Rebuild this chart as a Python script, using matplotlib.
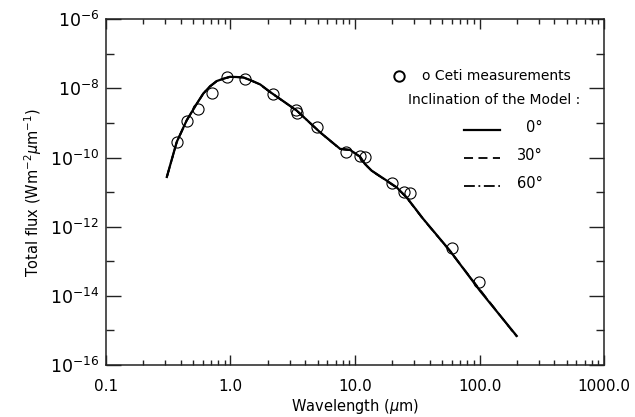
import matplotlib
matplotlib.use("Agg")
import matplotlib.pyplot as plt
from matplotlib.ticker import FixedLocator, NullFormatter, FixedFormatter

# Model SED (wavelength in micron, flux in W m^-2 um^-1)
wave_model = [0.308, 0.370, 0.445, 0.536, 0.605, 0.684, 0.774, 0.875, 0.99, 1.12,
              1.27, 1.44, 1.73, 2.07, 3.40, 5.24, 7.59, 9.12, 10.96, 12.0, 13.6,
              18.0, 21.6, 26.0, 35.2, 57.9, 100.9, 199.0]
flux_0deg = [2.75e-11, 2.83e-10, 1.20e-9, 3.63e-9, 7.16e-9, 1.15e-8, 1.63e-8, 1.91e-8,
             2.17e-8, 2.14e-8, 2.08e-8, 1.75e-8, 1.31e-8, 8.00e-9, 2.30e-9, 5.41e-10,
             1.79e-10, 1.67e-10, 1.07e-10, 6.61e-11, 4.20e-11, 2.15e-11, 1.38e-11,
             7.08e-12, 1.71e-12, 2.02e-13, 1.40e-14, 6.92e-16]
flux_30deg = [2.70e-11, 2.80e-10, 1.19e-9, 3.60e-9, 7.10e-9, 1.14e-8, 1.62e-8, 1.90e-8,
              2.16e-8, 2.13e-8, 2.07e-8, 1.74e-8, 1.30e-8, 7.96e-9, 2.28e-9, 5.36e-10,
              1.77e-10, 1.65e-10, 1.05e-10, 6.50e-11, 4.12e-11, 2.10e-11, 1.34e-11,
              6.90e-12, 1.68e-12, 1.98e-13, 1.50e-14, 6.60e-16]
flux_60deg = [2.72e-11, 2.81e-10, 1.19e-9, 3.61e-9, 7.12e-9, 1.14e-8, 1.62e-8, 1.90e-8,
              2.16e-8, 2.13e-8, 2.07e-8, 1.74e-8, 1.30e-8, 7.98e-9, 2.29e-9, 5.38e-10,
              1.78e-10, 1.66e-10, 1.06e-10, 6.55e-11, 4.15e-11, 2.12e-11, 1.36e-11,
              6.95e-12, 1.69e-12, 2.00e-13, 1.45e-14, 6.75e-16]

# o Ceti measurements
wave_obs = [0.370, 0.450, 0.546, 0.706, 0.94, 1.31, 2.18, 3.35, 3.40, 4.98,
            8.4, 10.96, 12.1, 19.7, 24.9, 27.7, 59.8, 99.0]
flux_obs = [2.77e-10, 1.13e-9, 2.51e-9, 7.50e-9, 2.13e-8, 1.91e-8, 6.84e-9, 2.40e-9,
            2.00e-9, 7.92e-10, 1.46e-10, 1.12e-10, 1.02e-10, 1.85e-11, 1.03e-11,
            9.48e-12, 2.42e-13, 2.55e-14]

xtick_vals = [0.1, 1.0, 10.0, 100.0, 1000.0]
xtick_labels = ["0.1", "1.0", "10.0", "100.0", "1000.0"]
ytick_vals = [1e-16, 1e-14, 1e-12, 1e-10, 1e-8, 1e-6]
ytick_labels = [r"$10^{-16}$", r"$10^{-14}$", r"$10^{-12}$", r"$10^{-10}$", r"$10^{-8}$", r"$10^{-6}$"]

plt.rcParams['font.family'] = ['DejaVu Sans']
plt.rcParams['mathtext.fontset'] = 'dejavusans'

fig = plt.figure(figsize=(6.35, 4.17), dpi=100)
ax = fig.add_axes([0.1669, 0.1247, 0.7843, 0.829])

ax.plot(wave_model, flux_0deg, color='black', lw=1.6, ls='-')
ax.plot(wave_model, flux_30deg, color='black', lw=1.3, ls=(0, (5, 3)))
ax.plot(wave_model, flux_60deg, color='black', lw=1.3, ls=(0, (6, 2, 1, 2)))
ax.plot(wave_obs, flux_obs, ls='none', marker='o', ms=8, mfc='none', mec='black', mew=0.8)

ax.set_xscale('log')
ax.set_yscale('log')
ax.set_xlim(0.1, 1000)
ax.set_ylim(1e-16, 1e-6)

ax.xaxis.set_major_locator(FixedLocator(xtick_vals))
ax.xaxis.set_major_formatter(FixedFormatter(xtick_labels))
minor_x = [m * d for d in [0.1, 1, 10, 100] for m in range(2, 10)]
ax.xaxis.set_minor_locator(FixedLocator(minor_x))
ax.xaxis.set_minor_formatter(NullFormatter())

ax.yaxis.set_major_locator(FixedLocator(ytick_vals))
ax.yaxis.set_major_formatter(FixedFormatter(ytick_labels))
ax.yaxis.set_minor_locator(FixedLocator([1e-15, 1e-13, 1e-11, 1e-9, 1e-7]))
ax.yaxis.set_minor_formatter(NullFormatter())

ax.tick_params(which='both', direction='in', top=True, right=True, width=1.0, color='#222222')
ax.tick_params(axis='x', which='major', length=7.5, labelsize=11, pad=10)
ax.tick_params(axis='x', which='minor', length=3.5)
ax.tick_params(axis='y', which='major', length=10.5, labelsize=12.5, pad=5)
ax.tick_params(axis='y', which='minor', length=5.8)
for sp in ax.spines.values():
    sp.set_linewidth(1.1)
    sp.set_color('#222222')

ax.set_xlabel(r"Wavelength ($\mu$m)", fontsize=10.5, labelpad=2)
ax.set_ylabel(r"Total flux (Wm$^{-2}\mu$m$^{-1}$)", fontsize=10.5, labelpad=4)

# Legend drawn in axes coordinates
T = ax.transAxes
ax.plot([0.588], [0.836], transform=T, marker='o', ms=7.5, mfc='none', mec='black', mew=1.4, ls='none')
ax.text(0.634, 0.836, "o Ceti measurements", transform=T, ha='left', va='center', fontsize=10)
ax.text(0.953, 0.767, "Inclination of the Model :", transform=T, ha='right', va='center', fontsize=10)
ax.plot([0.719, 0.791], [0.680, 0.680], transform=T, color='black', lw=1.6, ls='-')
ax.plot([0.719, 0.791], [0.599, 0.599], transform=T, color='black', lw=1.3, ls=(0, (5, 3)))
ax.plot([0.719, 0.791], [0.518, 0.518], transform=T, color='black', lw=1.3, ls=(0, (6, 2, 1, 2)))
ax.text(0.8775, 0.688, "0°", transform=T, ha='right', va='center', fontsize=10.5)
ax.text(0.8775, 0.605, "30°", transform=T, ha='right', va='center', fontsize=10.5)
ax.text(0.8775, 0.524, "60°", transform=T, ha='right', va='center', fontsize=10.5)

fig.savefig("out.png", dpi=100)
